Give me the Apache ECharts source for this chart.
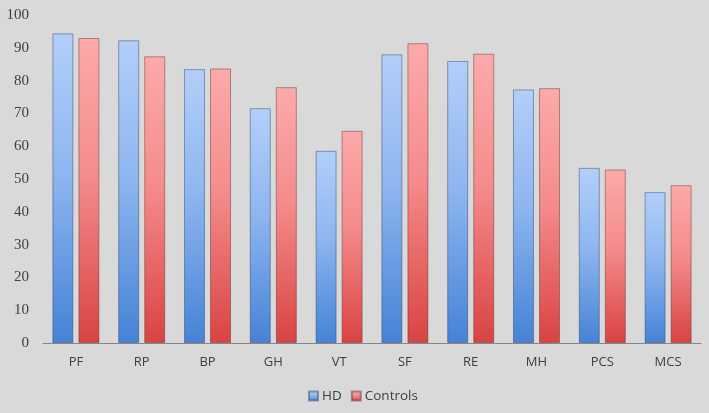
<!DOCTYPE html>
<html>
<head>
<meta charset="utf-8">
<script src="https://cdn.jsdelivr.net/npm/echarts@6/dist/echarts.min.js"></script>
<style>
html, body { margin: 0; padding: 0; background: #d9d9d9; }
#main { width: 709px; height: 413px; }
</style>
</head>
<body>
<div id="main"></div>
<script>
var categories = ["PF", "RP", "BP", "GH", "VT", "SF", "RE", "MH", "PCS", "MCS"];
var hdValues = [94.4, 92.3, 83.5, 71.6, 58.6, 88.0, 86.0, 77.3, 53.4, 46.0];
var controlValues = [93.0, 87.4, 83.7, 78.0, 64.7, 91.4, 88.2, 77.7, 52.9, 48.1];
var yTicks = { min: 0, max: 100, step: 10 };

function grad(top, mid, bottom) {
  return new echarts.graphic.LinearGradient(0, 0, 0, 1, [
    { offset: 0, color: top },
    { offset: 0.45, color: mid },
    { offset: 1, color: bottom }
  ]);
}

var myChart = echarts.init(document.getElementById("main"));
var option = {
  backgroundColor: "#d9d9d9",
  animation: false,
  grid: { left: 43, right: 8, top: 15, bottom: 70, containLabel: false },
  legend: {
    bottom: 5,
    left: 303,
    icon: "rect",
    itemWidth: 9,
    itemHeight: 9,
    itemGap: 9,
    textStyle: { fontFamily: "Open Sans", fontSize: 13.5, color: "#404040", padding: [0, 0, 0, -1] },
    data: ["HD", "Controls"]
  },
  xAxis: {
    type: "category",
    data: categories,
    axisTick: { show: false },
    axisLine: { lineStyle: { color: "#868686", width: 1 } },
    axisLabel: { fontFamily: "Open Sans", fontSize: 13, color: "#404040", margin: 13 }
  },
  yAxis: {
    type: "value",
    min: yTicks.min,
    max: yTicks.max,
    interval: yTicks.step,
    axisLine: { show: false },
    axisTick: { show: false },
    splitLine: { show: false },
    axisLabel: { fontFamily: "Liberation Serif", fontSize: 15, color: "#404040", margin: 14 }
  },
  series: [
    {
      name: "HD",
      type: "bar",
      barWidth: 21,
      barGap: "24%",
      data: hdValues,
      itemStyle: {
        color: grad("#b2cff9", "#8fb6f0", "#4583d6"),
        borderColor: "rgba(40,60,100,0.45)",
        borderWidth: 1
      }
    },
    {
      name: "Controls",
      type: "bar",
      barWidth: 21,
      data: controlValues,
      itemStyle: {
        color: grad("#fcaaaa", "#f58c8c", "#d94343"),
        borderColor: "rgba(100,40,40,0.45)",
        borderWidth: 1
      }
    }
  ]
};
myChart.setOption(option);
</script>
</body>
</html>
